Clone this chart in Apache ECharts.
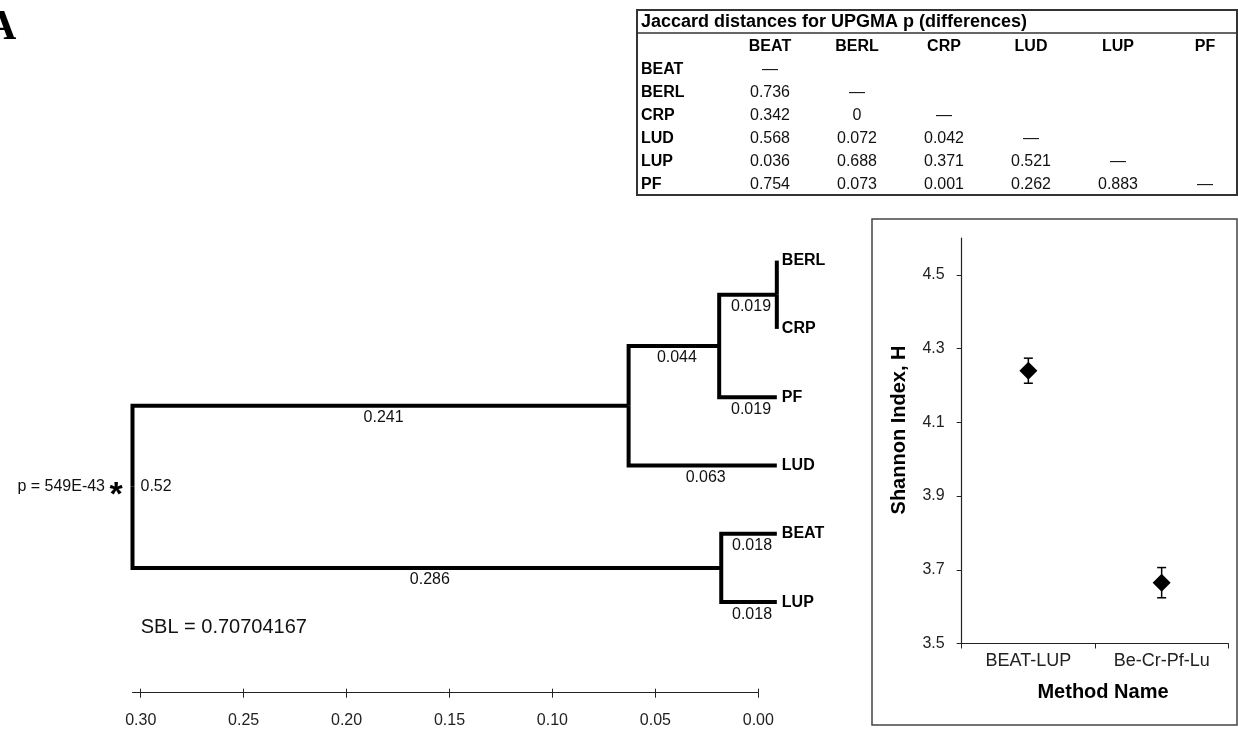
<!DOCTYPE html>
<html>
<head>
<meta charset="utf-8">
<title>UPGMA dendrogram and Shannon index</title>
<script src="https://cdn.jsdelivr.net/npm/echarts@6/dist/echarts.min.js"></script>
<style>
  html, body { margin: 0; padding: 0; background: #fff; }
  #main { width: 1238px; height: 729px; }
</style>
</head>
<body>
<div id="main"></div>
<script>
// dendrogram: leaves top to bottom, internal nodes as (left, right, depth)
var leafNames = ['BERL', 'CRP', 'PF', 'LUD', 'BEAT', 'LUP'];
var leafDepth = -0.009; // tips sit a little past the 0.00 tick in the figure
var nodeNames = ['n1', 'n2', 'n3', 'n4', 'root'];
var nodeLeft = ['BERL', 'n1', 'n2', 'BEAT', 'n3'];
var nodeRight = ['CRP', 'PF', 'LUD', 'LUP', 'n4'];
var nodeDepth = [-0.009, 0.019, 0.063, 0.018, 0.304];
var branchChild = ['n1', 'PF', 'n2', 'LUD', 'n3', 'BEAT', 'LUP', 'n4'];
var branchLength = [0.019, 0.019, 0.044, 0.063, 0.241, 0.018, 0.018, 0.286];
var scaleTicks = [0, 0.05, 0.1, 0.15, 0.2, 0.25, 0.3];
var rootSupport = '0.52';
var rootP = 'p = 549E-43';
var sblText = 'SBL = 0.70704167';

// Jaccard distance table
var tableTitle = 'Jaccard distances for UPGMA p (differences)';
var tableNames = ['BEAT', 'BERL', 'CRP', 'LUD', 'LUP', 'PF'];
var jaccardRows = [
  ['—'],
  ['0.736', '—'],
  ['0.342', '0', '—'],
  ['0.568', '0.072', '0.042', '—'],
  ['0.036', '0.688', '0.371', '0.521', '—'],
  ['0.754', '0.073', '0.001', '0.262', '0.883', '—']
];

// Shannon index panel
var methodNames = ['BEAT-LUP', 'Be-Cr-Pf-Lu'];
var shannonMean = [4.24, 3.665];
var shannonErr = [0.034, 0.041];
var shannonTicks = [3.5, 3.7, 3.9, 4.1, 4.3, 4.5];

var FONT = '"Liberation Sans", Arial, sans-serif';

// node positions (y = leaf slot, internal node = mean of its children)
var posY = {}, posD = {}, parentOf = {};
leafNames.forEach(function (n, i) { posY[n] = i; posD[n] = leafDepth; });
nodeNames.forEach(function (n, i) {
  posY[n] = (posY[nodeLeft[i]] + posY[nodeRight[i]]) / 2;
  posD[n] = nodeDepth[i];
  parentOf[nodeLeft[i]] = n;
  parentOf[nodeRight[i]] = n;
});
var linkData = Object.keys(parentOf).map(function (c) {
  var p = parentOf[c];
  return [posD[c], posY[c], posD[p], posY[p]];
});
var branchData = branchChild.map(function (c) {
  return [posD[c], posY[c], posD[parentOf[c]]];
});

var myChart = echarts.init(document.getElementById('main'));

// table drawn as plain graphic text
var tLeft = 637, tRight = 1237, tTop = 10, tBottom = 195, tSep = 33;
var colX = [770, 857, 944, 1031, 1118, 1205];
var headerY = 47, rowY0 = 70, rowStep = 23;
var tableEls = [
  { type: 'rect', shape: { x: tLeft, y: tTop, width: tRight - tLeft, height: tBottom - tTop },
    style: { fill: null, stroke: '#333', lineWidth: 2 } },
  { type: 'line', shape: { x1: tLeft, y1: tSep, x2: tRight, y2: tSep },
    style: { stroke: '#333', lineWidth: 1.5 } },
  { type: 'text', x: 641, y: 22,
    style: { text: tableTitle, fontFamily: FONT, fontWeight: 'bold', fontSize: 18, fill: '#000', verticalAlign: 'middle' } }
];
tableNames.forEach(function (n, j) {
  tableEls.push({ type: 'text', x: colX[j], y: headerY,
    style: { text: n, fontFamily: FONT, fontWeight: 'bold', fontSize: 16, fill: '#000', align: 'center', verticalAlign: 'middle' } });
});
jaccardRows.forEach(function (row, i) {
  var y = rowY0 + i * rowStep;
  tableEls.push({ type: 'text', x: 641, y: y,
    style: { text: tableNames[i], fontFamily: FONT, fontWeight: 'bold', fontSize: 16, fill: '#000', verticalAlign: 'middle' } });
  row.forEach(function (v, j) {
    tableEls.push({ type: 'text', x: colX[j], y: y,
      style: { text: v, fontFamily: FONT, fontSize: 16, fill: '#111', align: 'center', verticalAlign: 'middle' } });
  });
});

var option = {
  animation: false,
  backgroundColor: '#fff',
  grid: [
    { left: 132.5, right: 479.7, top: 260.6, bottom: 126.9, outerBoundsMode: 'none' },
    { left: 961.7, right: 9.7, top: 238, bottom: 85.5, outerBoundsMode: 'none' }
  ],
  xAxis: [
    {
      gridIndex: 0, type: 'value', min: 0, max: 0.304, inverse: true,
      position: 'bottom', offset: 90.6,
      axisLine: { show: true, onZero: false, lineStyle: { color: '#222', width: 1 } },
      axisTick: { show: true, customValues: scaleTicks, length: 5, lineStyle: { color: '#222' } },
      axisLabel: {
        customValues: scaleTicks, margin: 20, fontSize: 16, color: '#222', fontFamily: FONT,
        formatter: function (v) { return v.toFixed(2); }
      },
      splitLine: { show: false }
    },
    {
      // second copy only for the upward half of the crossing ticks
      gridIndex: 0, type: 'value', min: 0, max: 0.304, inverse: true,
      position: 'bottom', offset: 90.6,
      axisLine: { show: false, onZero: false },
      axisTick: { show: true, inside: true, customValues: scaleTicks, length: 4, lineStyle: { color: '#222' } },
      axisLabel: { show: false },
      splitLine: { show: false }
    },
    {
      gridIndex: 1, type: 'category', data: methodNames, boundaryGap: true,
      axisLine: { show: true, onZero: false, lineStyle: { color: '#222', width: 1.2 } },
      axisTick: { show: true, length: 5, interval: 0, lineStyle: { color: '#222' } },
      axisLabel: { interval: 0, margin: 9, fontSize: 18, color: '#222', fontFamily: FONT },
      splitLine: { show: false }
    }
  ],
  yAxis: [
    { gridIndex: 0, type: 'value', min: 0, max: 5, inverse: true, show: false },
    {
      gridIndex: 1, type: 'value', min: 3.5, max: 4.6,
      axisLine: { show: true, onZero: false, lineStyle: { color: '#222', width: 1.2 } },
      axisTick: { show: true, customValues: shannonTicks, length: 5, lineStyle: { color: '#222' } },
      axisLabel: {
        customValues: shannonTicks, margin: 17, fontSize: 16, color: '#222', fontFamily: FONT,
        formatter: function (v) { return v.toFixed(1); }
      },
      splitLine: { show: false }
    }
  ],
  graphic: tableEls.concat([
    { type: 'text', x: -14, y: 28,
      style: { text: 'A', fontFamily: '"Liberation Serif", "Times New Roman", serif', fontWeight: 'bold', fontSize: 42, fill: '#000', verticalAlign: 'middle' } },
    { type: 'text', x: 140.7, y: 627,
      style: { text: sblText, fontFamily: FONT, fontSize: 20, fill: '#111', verticalAlign: 'middle' } },
    { type: 'rect', shape: { x: 872, y: 219, width: 365, height: 506 },
      style: { fill: null, stroke: '#444', lineWidth: 1.5 } },
    { type: 'text', x: 899, y: 430, rotation: Math.PI / 2,
      style: { text: 'Shannon Index, H', fontFamily: FONT, fontWeight: 'bold', fontSize: 20, fill: '#000', align: 'center', verticalAlign: 'middle' } },
    { type: 'text', x: 1103, y: 692,
      style: { text: 'Method Name', fontFamily: FONT, fontWeight: 'bold', fontSize: 20, fill: '#000', align: 'center', verticalAlign: 'middle' } }
  ]),
  series: [
    {
      // elbow branches
      type: 'custom', xAxisIndex: 0, yAxisIndex: 0, clip: false, silent: true,
      data: linkData,
      renderItem: function (params, api) {
        var c = api.coord([api.value(0), api.value(1)]);
        var k = api.coord([api.value(2), api.value(1)]);
        var p = api.coord([api.value(2), api.value(3)]);
        var pts = [c];
        if (Math.abs(k[0] - c[0]) > 0.5) pts.push(k);
        pts.push(p);
        return {
          type: 'polyline', shape: { points: pts },
          style: { stroke: '#000', lineWidth: 4, fill: null, lineJoin: 'miter', lineCap: 'butt' }
        };
      }
    },
    {
      // branch length labels under each horizontal
      type: 'custom', xAxisIndex: 0, yAxisIndex: 0, clip: false, silent: true,
      data: branchData,
      renderItem: function (params, api) {
        var m = api.coord([(api.value(0) + api.value(2)) / 2, api.value(1)]);
        return {
          type: 'text', x: m[0] + 3, y: m[1] + 12,
          style: {
            text: branchLength[params.dataIndex].toFixed(3), fontFamily: FONT, fontSize: 16,
            fill: '#111', align: 'center', verticalAlign: 'middle'
          }
        };
      }
    },
    {
      // leaf names
      type: 'custom', xAxisIndex: 0, yAxisIndex: 0, clip: false, silent: true,
      data: leafNames.map(function (n, i) { return [leafDepth, i]; }),
      renderItem: function (params, api) {
        var p = api.coord([api.value(0), api.value(1)]);
        return {
          type: 'text', x: p[0] + 5, y: p[1],
          style: {
            text: leafNames[params.dataIndex], fontFamily: FONT, fontWeight: 'bold', fontSize: 16,
            fill: '#000', verticalAlign: 'middle'
          }
        };
      }
    },
    {
      // root annotations
      type: 'custom', xAxisIndex: 0, yAxisIndex: 0, clip: false, silent: true,
      data: [[posD.root, posY.root]],
      renderItem: function (params, api) {
        var p = api.coord([api.value(0), api.value(1)]);
        return {
          type: 'group', children: [
            { type: 'text', x: p[0] + 8, y: p[1],
              style: { text: rootSupport, fontFamily: FONT, fontSize: 16, fill: '#111', verticalAlign: 'middle' } },
            { type: 'text', x: p[0] - 27.5, y: p[1],
              style: { text: rootP, fontFamily: FONT, fontSize: 16, fill: '#111', align: 'right', verticalAlign: 'middle' } },
            { type: 'text', x: p[0] - 16.5, y: p[1] + 9,
              style: { text: '*', fontFamily: FONT, fontWeight: 'bold', fontSize: 34, fill: '#000', align: 'center', verticalAlign: 'middle' } }
          ]
        };
      }
    },
    {
      // error bars
      type: 'custom', xAxisIndex: 2, yAxisIndex: 1, clip: false, silent: true, z: 2,
      data: methodNames.map(function (m, i) {
        return [i, shannonMean[i] - shannonErr[i], shannonMean[i] + shannonErr[i]];
      }),
      renderItem: function (params, api) {
        var lo = api.coord([api.value(0), api.value(1)]);
        var hi = api.coord([api.value(0), api.value(2)]);
        var hw = 4.5;
        var st = { stroke: '#000', lineWidth: 1.5 };
        return {
          type: 'group', children: [
            { type: 'line', shape: { x1: lo[0], y1: lo[1], x2: hi[0], y2: hi[1] }, style: st },
            { type: 'line', shape: { x1: lo[0] - hw, y1: lo[1], x2: lo[0] + hw, y2: lo[1] }, style: st },
            { type: 'line', shape: { x1: hi[0] - hw, y1: hi[1], x2: hi[0] + hw, y2: hi[1] }, style: st }
          ]
        };
      }
    },
    {
      name: 'Shannon Index',
      type: 'scatter', xAxisIndex: 2, yAxisIndex: 1, z: 3, silent: true,
      symbol: 'diamond', symbolSize: 18,
      itemStyle: { color: '#000', opacity: 1, borderWidth: 0 },
      data: methodNames.map(function (m, i) { return [i, shannonMean[i]]; })
    }
  ]
};
myChart.setOption(option);
</script>
</body>
</html>
